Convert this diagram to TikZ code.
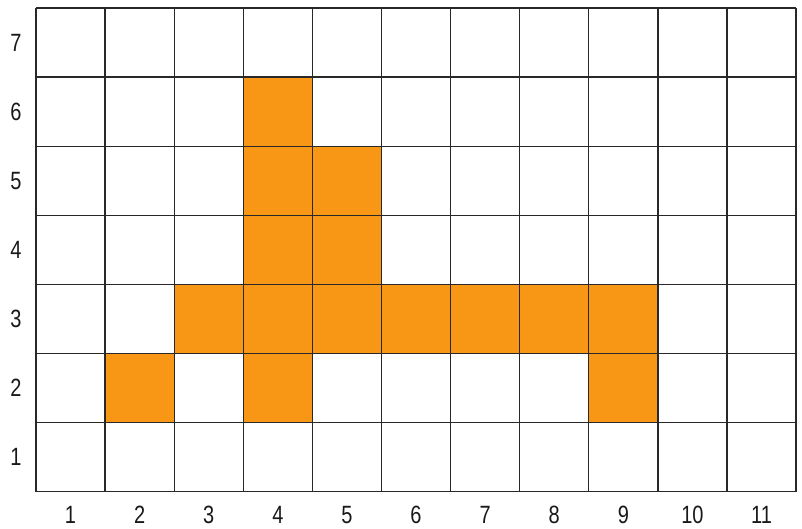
\documentclass[tikz,border=0pt]{standalone}
\usepackage{fontspec}
\setmainfont[FakeStretch=0.8]{Liberation Sans}
\definecolor{cellorange}{RGB}{248,150,22}
\definecolor{gridline}{RGB}{40,40,40}
\begin{document}
\begin{tikzpicture}[x=1pt,y=1pt,
  lbl/.style={font=\fontsize{25}{25}\selectfont, text=black!90, inner sep=0pt},
  filled/.style={fill=cellorange, draw=none},
  gridl/.style={draw=gridline, line width=1.3pt}]
\useasboundingbox (0,0) rectangle (802,-529);
\def\cw{69.1}
\def\gx{36}
\def\gy{-8}
% filled cells: col,row (row 1 bottom, row 7 top)
\foreach \c/\r in {4/6,4/5,5/5,4/4,5/4,3/3,4/3,5/3,6/3,7/3,8/3,9/3,2/2,4/2,9/2}{
  \fill[filled] ({\gx+(\c-1)*\cw},{\gy-(7-\r)*\cw}) rectangle ({\gx+\c*\cw},{\gy-(8-\r)*\cw});
}
% grid
\foreach \i in {0,...,11}{
  \draw[gridl] ({\gx+\i*\cw},\gy) -- ({\gx+\i*\cw},{\gy-7*\cw});
}
\foreach \j in {0,...,7}{
  \draw[gridl] (\gx,{\gy-\j*\cw}) -- ({\gx+11*\cw},{\gy-\j*\cw});
}
% labels
\foreach \c in {1,...,11}{
  \node[lbl] (x\c) at ({\gx+(\c-0.5)*\cw},-515) {\c};
}
\foreach \r in {1,...,7}{
  \node[lbl] (y\r) at (16,{\gy-(7.5-\r)*\cw}) {\r};
}
\end{tikzpicture}
\end{document}
